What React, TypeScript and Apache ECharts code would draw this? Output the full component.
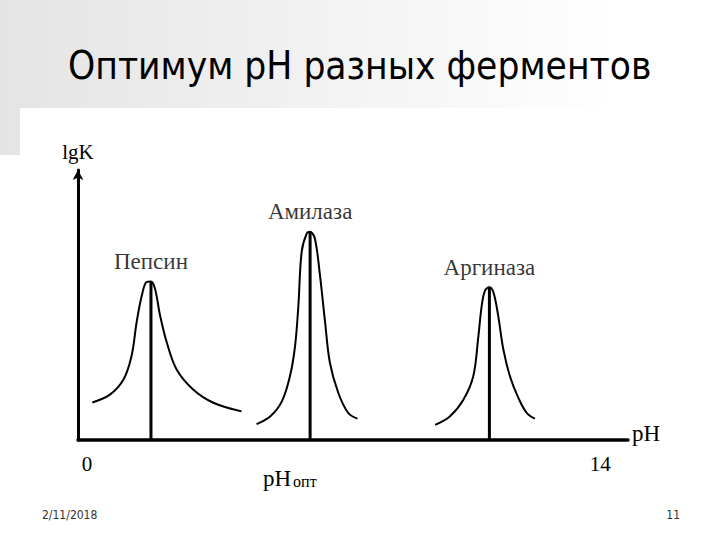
import React, { useEffect, useRef } from "react";
import * as echarts from "echarts";

const titleText = "Оптимум pH разных ферментов";
const xTickLabels = [0, 14];
const enzymeNames = ["Пепсин", "Амилаза", "Аргиназа"];
const pepsinCurve: [number, number][] = [
  [0.39, 1.39], [0.87, 1.68], [1.24, 2.24], [1.46, 3.11], [1.6, 4.37], [1.74, 5.35],
  [1.87, 5.85], [1.99, 5.87], [2.1, 5.6], [2.24, 4.6], [2.42, 3.62], [2.69, 2.61],
  [3.14, 1.87], [3.69, 1.38], [4.46, 1.06],
];
const amylaseCurve: [number, number][] = [
  [4.87, 0.59], [5.24, 0.87], [5.56, 1.43], [5.78, 2.36], [5.92, 3.48], [6.01, 4.97],
  [6.1, 6.97], [6.24, 7.65], [6.33, 7.71], [6.46, 7.46], [6.6, 6.09], [6.74, 4.35],
  [6.87, 2.86], [7.1, 1.74], [7.37, 1.0], [7.62, 0.79],
];
const arginaseCurve: [number, number][] = [
  [9.74, 0.56], [10.14, 0.87], [10.51, 1.49], [10.78, 2.36], [10.92, 3.85], [11.01, 4.97],
  [11.1, 5.53], [11.22, 5.66], [11.33, 5.47], [11.46, 4.6], [11.6, 3.36], [11.78, 2.36],
  [12.01, 1.56], [12.24, 1.0], [12.46, 0.79],
];
const optimumPH = [1.99, 6.33, 11.22];
const peakLgK = [5.87, 7.71, 5.66];
const footerDate = "2/11/2018";
const footerPage = "11";

const SERIF = "'Liberation Serif', 'DejaVu Serif', serif";
const SANS = "'DejaVu Sans Condensed', 'DejaVu Sans', sans-serif";

export default function App() {
  const ref = useRef<HTMLDivElement>(null);
  useEffect(() => {
    if (!ref.current) return;
    const chart = echarts.init(ref.current, null, { renderer: "svg" });
    const curves = [pepsinCurve, amylaseCurve, arginaseCurve];
    const curveSeries = curves.map((c, i) => ({
      type: "line",
      name: enzymeNames[i] + " curve",
      data: c,
      smooth: 0.35,
      symbol: "none",
      lineStyle: { color: "#000", width: 2 },
      z: 3,
    }));
    const stemSeries = optimumPH.map((x, i) => ({
      type: "line",
      name: enzymeNames[i] + " optimum",
      data: [[x, 0], [x, peakLgK[i]]],
      symbol: "none",
      lineStyle: { color: "#000", width: 3 },
      z: 4,
    }));
    const labelSeries = {
      type: "scatter",
      name: "labels",
      data: optimumPH.map((x, i) => ({ value: [x, peakLgK[i]], name: enzymeNames[i] })),
      symbolSize: 1,
      itemStyle: { color: "rgba(0,0,0,0)" },
      label: {
        show: true,
        position: "top",
        distance: 8,
        formatter: (p: any) => p.name,
        fontFamily: SERIF,
        fontSize: 23,
        color: "#000",
      },
      z: 5,
    };
    chart.setOption({
      animation: false,
      backgroundColor: "#fff",
      grid: { left: 78, right: 92, top: 170, bottom: 100 },
      xAxis: {
        type: "value",
        min: 0,
        max: 15,
        name: "pH",
        nameLocation: "end",
        nameGap: 4,
        nameTextStyle: {
          fontFamily: SERIF,
          fontSize: 23,
          color: "#000",
          verticalAlign: "bottom",
          lineHeight: 14,
        },
        axisLine: { show: true, onZero: false, lineStyle: { color: "#000", width: 3.5 } },
        axisTick: { show: false },
        splitLine: { show: false },
        axisLabel: {
          customValues: xTickLabels,
          fontFamily: SERIF,
          fontSize: 21,
          color: "#000",
          margin: 13,
          padding: [0, 0, 0, 18],
        },
      },
      yAxis: {
        type: "value",
        min: 0,
        max: 10,
        name: "lgK",
        nameLocation: "end",
        nameGap: 8,
        nameTextStyle: { fontFamily: SERIF, fontSize: 21, color: "#000" },
        axisLine: {
          show: true,
          lineStyle: { color: "#000", width: 3 },
          symbol: ["none", "arrow"],
          symbolSize: [8, 10],
        },
        axisTick: { show: false },
        axisLabel: { show: false },
        splitLine: { show: false },
      },
      graphic: [
        {
          type: "rect",
          shape: { x: 0, y: 0, width: 720, height: 155 },
          style: {
            fill: new echarts.graphic.LinearGradient(0, 0, 1, 0, [
              { offset: 0, color: "#e4e4e4" },
              { offset: 0.85, color: "#ffffff" },
              { offset: 1, color: "#ffffff" },
            ]),
          },
          z: -10,
          silent: true,
        },
        {
          type: "rect",
          shape: { x: 20, y: 108, width: 700, height: 432 },
          style: { fill: "#fff" },
          z: -9,
          silent: true,
        },
        {
          type: "text",
          left: 68,
          top: 46,
          style: { text: titleText, fontFamily: SANS, fontSize: 38.5, fill: "#000" },
          z: 10,
        },
        {
          type: "text",
          left: 263,
          top: 467,
          style: {
            text: "{a|pH}{b|опт}",
            rich: {
              a: { fontFamily: SERIF, fontSize: 23, fill: "#000", color: "#000" },
              b: { fontFamily: SERIF, fontSize: 16, fill: "#000", color: "#000", padding: [6, 0, 0, 2] },
            },
          },
          z: 10,
        },
        {
          type: "text",
          left: 42,
          top: 509,
          style: { text: footerDate, fontFamily: SANS, fontSize: 12, fill: "#333" },
          z: 10,
        },
        {
          type: "text",
          right: 40,
          top: 509,
          style: { text: footerPage, fontFamily: SANS, fontSize: 12, fill: "#333" },
          z: 10,
        },
      ],
      series: [...curveSeries, ...stemSeries, labelSeries],
    });
    return () => chart.dispose();
  }, []);
  return (
    <div
      ref={ref}
      style={{ position: "fixed", left: 0, top: 0, width: 720, height: 540 }}
    />
  );
}
